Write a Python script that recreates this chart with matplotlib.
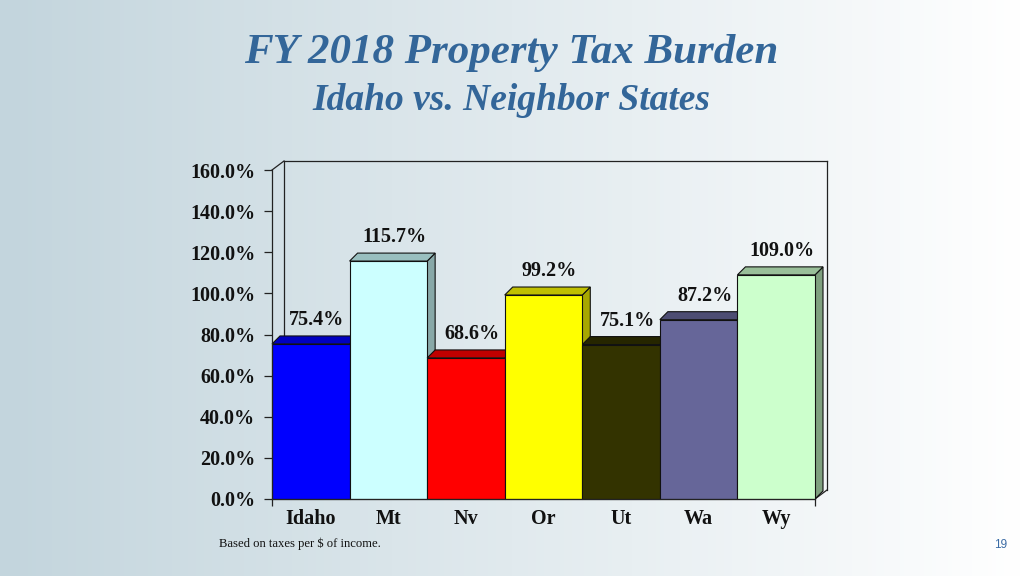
import numpy as np
import matplotlib
matplotlib.use("Agg")
import matplotlib.pyplot as plt
from matplotlib.patches import Polygon, Rectangle

# ---- data ----
states = ["Idaho", "Mt", "Nv", "Or", "Ut", "Wa", "Wy"]
burden = [75.4, 115.7, 68.6, 99.2, 75.1, 87.2, 109.0]
front_colors = ["#0000ff", "#ccffff", "#ff0000", "#ffff00", "#333300", "#666699", "#ccffcc"]
top_colors = ["#0000c0", "#99bfbf", "#c00000", "#c0c000", "#262600", "#4d4d73", "#99bf99"]
side_colors = ["#000099", "#88a8a8", "#a00000", "#a8a800", "#1f1f00", "#44446a", "#7fa07f"]
yticks = [0, 20, 40, 60, 80, 100, 120, 140, 160]
title = "FY 2018 Property Tax Burden"
subtitle = "Idaho vs. Neighbor States"
footnote = "Based on taxes per $ of income."
page = "19"

W, H = 1024, 576
fig = plt.figure(figsize=(W / 100, H / 100), dpi=100)

# background gradient
bg = fig.add_axes([0, 0, 1, 1])
bg.set_xlim(0, W); bg.set_ylim(H, 0); bg.axis("off")
t = np.linspace(0, 1, 256)
c0 = np.array([195, 213, 221]) / 255
c1 = np.array([255, 255, 255]) / 255
grad = (c0[None, :] * (1 - t[:, None]) + c1[None, :] * t[:, None])[None, :, :]
bg.imshow(grad, extent=[0, W, H, 0], aspect="auto", zorder=0)

serif = ["Liberation Serif", "DejaVu Serif"]
title_col = "#336699"
bg.text(511, 53, title, ha="center", va="center", fontsize=31, fontweight="bold",
        fontstyle="italic", family=serif, color=title_col)
bg.text(511, 101, subtitle, ha="center", va="center", fontsize=27, fontweight="bold",
        fontstyle="italic", family=serif, color=title_col)
bg.text(219, 544, footnote, ha="left", va="center", fontsize=9.1, family=serif, color="#111111")
bg.text(1001, 545, page, ha="center", va="center", fontsize=8.5, family=["Liberation Sans"],
        color="#3b6ba5")

# chart axes (front plane)
x0, x1, yb, yt = 272, 815, 499, 170
ax = fig.add_axes([x0 / W, (H - yb) / H, (x1 - x0) / W, (yb - yt) / H])
ax.patch.set_alpha(0)
n = len(states)
ax.set_xlim(-0.5, n - 0.5)
ax.set_ylim(0, 160)
px_x = (n) / (x1 - x0)       # data units per pixel (x)
px_y = 160 / (yb - yt)       # data units per pixel (y)

# back wall lines
wdx, wdy = 12 * px_x, 9 * px_y
lk = dict(color="#222222", lw=0.9, clip_on=False, zorder=1)
ax.plot([-0.5, -0.5 + wdx], [160, 160 + wdy], **lk)
ax.plot([-0.5 + wdx, n - 0.5 + wdx], [160 + wdy, 160 + wdy], **lk)
ax.plot([-0.5 + wdx, -0.5 + wdx], [wdy, 160 + wdy], **lk)
ax.plot([n - 0.5 + wdx, n - 0.5 + wdx], [wdy, 160 + wdy], **lk)
ax.plot([n - 0.5, n - 0.5 + wdx], [0, wdy], **lk)

# 3D bars
bdx, bdy = 8 * px_x, 8 * px_y
for i, (v, fc, tc, sc) in enumerate(zip(burden, front_colors, top_colors, side_colors)):
    l, r = i - 0.5, i + 0.5
    side = Polygon([(r, 0), (r + bdx, bdy), (r + bdx, v + bdy), (r, v)], closed=True,
                   facecolor=sc, edgecolor="#111111", lw=0.8, zorder=2 + i * 3, clip_on=False)
    top = Polygon([(l, v), (r, v), (r + bdx, v + bdy), (l + bdx, v + bdy)], closed=True,
                  facecolor=tc, edgecolor="#111111", lw=0.8, zorder=3 + i * 3, clip_on=False)
    front = Rectangle((l, 0), 1.0, v, facecolor=fc, edgecolor="#111111", lw=0.8,
                      zorder=4 + i * 3, clip_on=False)
    ax.add_patch(side); ax.add_patch(top); ax.add_patch(front)
    ax.annotate(f"{v:.1f}%", (i, v), xytext=(6, 24), textcoords="offset pixels",
                ha="center", va="center", fontsize=14.5, fontweight="bold", family=serif,
                color="#111111", zorder=40)

# axes styling
for s in ["top", "right"]:
    ax.spines[s].set_visible(False)
for s in ["left", "bottom"]:
    ax.spines[s].set_color("#222222")
    ax.spines[s].set_linewidth(0.9)
    ax.spines[s].set_zorder(50)
ax.set_yticks(yticks)
ax.set_yticklabels([f"{v:.1f}%" for v in yticks], fontsize=14.5, fontweight="bold", family=serif,
                   color="#111111")
ax.tick_params(axis="y", direction="out", length=6, width=0.9, color="#222222", pad=6)
ax.set_xticks(range(n))
ax.set_xticklabels(states, fontsize=14.5, fontweight="bold", family=serif, color="#111111")
ax.tick_params(axis="x", length=0, pad=7)
ax.set_xticks([-0.5, n - 0.5], minor=True)
ax.tick_params(axis="x", which="minor", direction="out", length=5, width=0.9, color="#222222")

fig.savefig("out.png", dpi=100)
